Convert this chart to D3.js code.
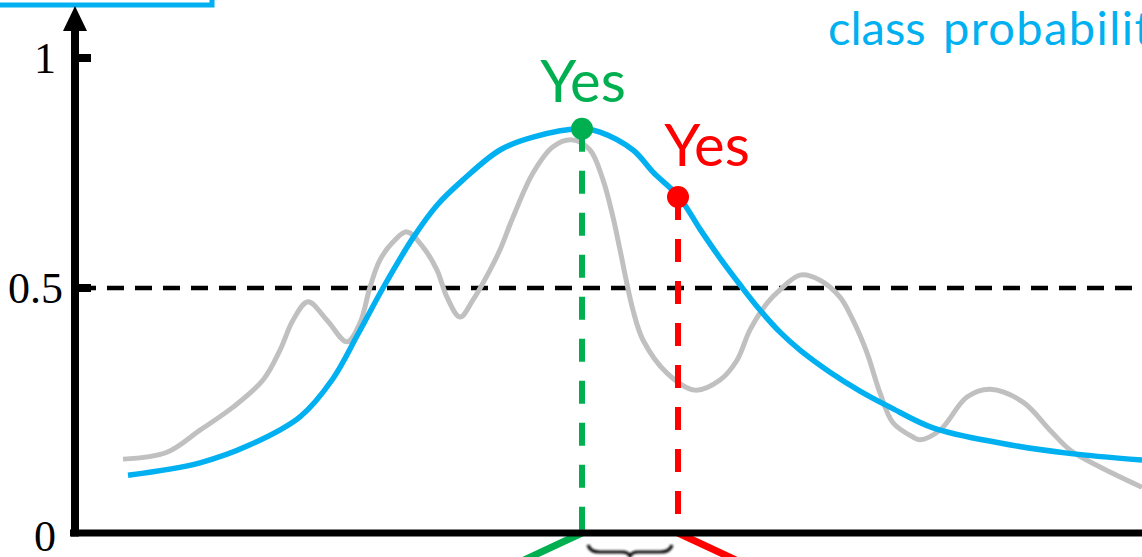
<!DOCTYPE html>
<html>
<head>
<meta charset="utf-8">
<script src="https://cdn.jsdelivr.net/npm/d3@7"></script>
<style>
  body{margin:0;background:#fff;overflow:hidden}
  svg{display:block}
</style>
</head>
<body>
<div id="chart"></div>
<script>
// x: position along the axis (arbitrary units), p: probability
const smoothX=[53,125,175,225,257,283,308,338,362,388,425,458,507,525,558,578,604,625,645,665,685,705,725,755,785,815,858,925,992,1067];
const smoothP=[.093,.120,.159,.220,.300,.400,.500,.609,.680,.735,.800,.828,.846,.839,.800,.752,.698,.628,.565,.507,.452,.404,.365,.317,.276,.241,.196,.163,.141,.126];
const noisyX=[48,92,125,158,188,205,218,233,252,272,285,295,305,318,332,348,362,372,385,398,415,425,438,458,478,497,515,528,538,545,558,568,592,620,645,662,675,692,705,725,745,765,778,792,805,818,838,845,865,892,915,948,975,995,1025,1067];
const noisyP=[.128,.143,.191,.241,.300,.365,.430,.470,.430,.383,.424,.502,.561,.600,.622,.589,.539,.480,.437,.474,.539,.583,.654,.750,.807,.822,.800,.735,.654,.583,.452,.387,.315,.278,.300,.343,.409,.467,.496,.528,.517,.480,.430,.359,.272,.207,.176,.170,.191,.263,.280,.252,.191,.148,.111,.067];
const yTicks=[1,.5];
const yTickLabels=["1","0.5"];
const threshold=.5;
const markers=[
  {name:"Yes",x:507,p:.846,color:"#00B050",dir:-1},
  {name:"Yes",x:603,p:.698,color:"#FF0000",dir:1}
];

(function(){
  const W=1142,H=557;
  const svg=d3.select("#chart").append("svg").attr("width",W).attr("height",H);
  const x=d3.scaleLinear().domain([0,1067]).range([75,1142]);
  const y=d3.scaleLinear().domain([-.0326,1]).range([533,58]);
  const y0=y.range()[0], ax=x(0);

  // blue box edge peeking in at the top-left
  svg.append("rect").attr("x",-20).attr("y",-60).attr("width",232).attr("height",65)
    .attr("fill","none").attr("stroke","#00B0F0").attr("stroke-width",5);

  const title=svg.append("text").attr("y",45)
    .attr("font-family","Lato, 'Open Sans', sans-serif").attr("font-size",47)
    .attr("fill","#00B0F0");
  title.append("tspan").attr("x",828).text("class");
  title.append("tspan").attr("x",943).attr("letter-spacing",1.4).text("probability");

  // threshold line
  svg.append("line").attr("x1",ax+4).attr("x2",W)
    .attr("y1",y(threshold)).attr("y2",y(threshold))
    .attr("stroke","#000").attr("stroke-width",4.5).attr("stroke-dasharray","17 11");

  const line=d3.line().x(d=>x(d[0])).y(d=>y(d[1])).curve(d3.curveCatmullRom.alpha(.5));
  svg.append("path").datum(d3.zip(noisyX,noisyP)).attr("d",line)
    .attr("fill","none").attr("stroke","#C0C0C0").attr("stroke-width",5);
  svg.append("path").datum(d3.zip(smoothX,smoothP)).attr("d",line)
    .attr("fill","none").attr("stroke","#00B0F0").attr("stroke-width",5.5);

  // drop lines + legs below the axis
  svg.selectAll(".drop").data(markers).join("line")
    .attr("x1",d=>x(d.x)).attr("x2",d=>x(d.x))
    .attr("y1",d=>y(d.p)).attr("y2",y0)
    .attr("stroke",d=>d.color).attr("stroke-width",6).attr("stroke-dasharray","23 19");
  svg.selectAll(".leg").data(markers).join("line")
    .attr("x1",d=>x(d.x)).attr("x2",d=>x(d.x)+d.dir*60)
    .attr("y1",y0).attr("y2",y0+28)
    .attr("stroke",d=>d.color).attr("stroke-width",7);

  // axes
  svg.append("line").attr("x1",70).attr("x2",W).attr("y1",y0).attr("y2",y0)
    .attr("stroke","#000").attr("stroke-width",7);
  svg.append("line").attr("x1",ax).attr("x2",ax).attr("y1",28).attr("y2",y0+3.5)
    .attr("stroke","#000").attr("stroke-width",8);
  svg.append("path").attr("d",`M${ax},6L${ax-12},31L${ax+12},31Z`).attr("fill","#000");

  svg.selectAll(".tick").data(yTicks).join("line")
    .attr("x1",ax).attr("x2",ax+16).attr("y1",d=>y(d)).attr("y2",d=>y(d))
    .attr("stroke","#000").attr("stroke-width",8);
  svg.selectAll(".tl").data(yTicks.concat([y.domain()[0]])).join("text")
    .attr("x",(d,i)=>i===1?63:56).attr("y",d=>y(d)+(d<0?18:15))
    .attr("text-anchor","end")
    .attr("font-family","'Liberation Serif', serif").attr("font-size",44)
    .text((d,i)=>yTickLabels[i]||"0");

  // brace between the two thresholds
  const defs=svg.append("defs");
  defs.append("filter").attr("id","blur").append("feGaussianBlur").attr("stdDeviation",1.1);
  const bx0=x(markers[0].x)+6, bx1=x(markers[1].x)-6, bm=(bx0+bx1)/2;
  svg.append("path")
    .attr("d",`M${bx0},${y0+12}Q${bx0+2},${y0+19} ${bx0+12},${y0+19}L${bm-8},${y0+19}Q${bm-2},${y0+19} ${bm},${y0+23}Q${bm+2},${y0+19} ${bm+8},${y0+19}L${bx1-12},${y0+19}Q${bx1-2},${y0+19} ${bx1},${y0+12}`)
    .attr("fill","none").attr("stroke","#111").attr("stroke-width",3.2).attr("filter","url(#blur)");

  // markers
  svg.selectAll(".dot").data(markers).join("circle")
    .attr("cx",d=>x(d.x)).attr("cy",d=>y(d.p)).attr("r",11).attr("fill",d=>d.color);
  svg.selectAll(".yes").data(markers).join("text")
    .attr("x",(d,i)=>x(d.x)+(i?29:1)).attr("y",(d,i)=>y(d.p)-(i?31:27))
    .attr("text-anchor","middle")
    .attr("font-family","Lato, 'Open Sans', sans-serif").attr("font-size",58)
    .attr("fill",d=>d.color).text(d=>d.name);
})();
</script>
</body>
</html>
